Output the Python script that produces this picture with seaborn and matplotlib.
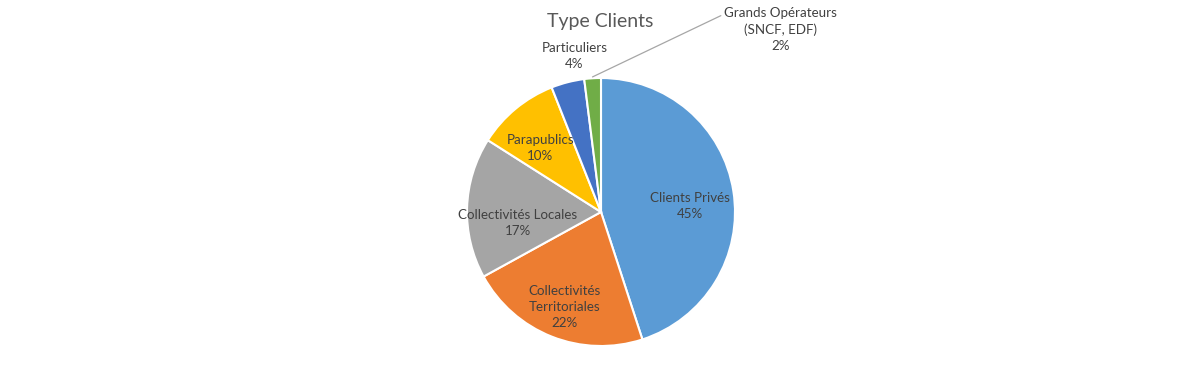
import numpy as np
import matplotlib
matplotlib.use("Agg")
import matplotlib.pyplot as plt
import seaborn as sns

categories = ["Clients Privés", "Collectivités\nTerritoriales", "Collectivités Locales",
              "Parapublics", "Particuliers", "Grands Opérateurs\n(SNCF, EDF)"]
values = [45, 22, 17, 10, 4, 2]
colors = ["#5B9BD5", "#ED7D31", "#A5A5A5", "#FFC000", "#4472C4", "#70AD47"]
title = "Type Clients"

sns.set_theme(style="white")
plt.rcParams['font.family'] = ['Lato', 'DejaVu Sans']

W, H = 1200, 380
fig = plt.figure(figsize=(12, 3.8), dpi=100)
cx, cy, R = 601, 212, 134
ax = fig.add_axes([(cx - R) / W, (H - cy - R) / H, 2 * R / W, 2 * R / H])
ax.axis("off")

pal = sns.color_palette(colors)
wedges, _ = ax.pie(values, colors=pal, startangle=90, counterclock=False, radius=1,
                   wedgeprops=dict(edgecolor="white", linewidth=1.5), frame=False)
ax.set_xlim(-1, 1)
ax.set_ylim(-1, 1)

dists = [0.67, 0.74, 0.62, 0.71, 1.2, None]
dx_off = [0, 0, 0, 0, 0.1, 0]
dy_off = [-0.06, -0.02, -0.1, -0.07, 0.0, 0]
total = sum(values)
tc = "#404040"
fs = 9.6
for i, (w, lab, v) in enumerate(zip(wedges, categories, values)):
    mid = np.deg2rad((w.theta1 + w.theta2) / 2)
    txt = f"{lab}\n{round(100 * v / total)}%"
    if dists[i] is not None:
        x = dists[i] * np.cos(mid) + dx_off[i]
        y = dists[i] * np.sin(mid) + dy_off[i]
        ax.text(x, y, txt, ha="center", va="center", fontsize=fs, color=tc,
                linespacing=1.4)
    else:
        ex, ey = 1.01 * np.cos(mid), 1.01 * np.sin(mid)
        ax.annotate(txt, xy=(ex, ey), xytext=(1.34, 1.36), ha="center", va="center",
                    fontsize=fs, color=tc, linespacing=1.4, annotation_clip=False,
                    arrowprops=dict(arrowstyle="-", color="#A6A6A6", lw=0.9,
                                    shrinkA=0, shrinkB=0,
                                    relpos=(0.0, 0.85)))

fig.text(600 / W, 1 - 22 / H, title, ha="center", va="center", fontsize=14,
         color="#595959")

fig.savefig("out.png", dpi=100, facecolor="white")
